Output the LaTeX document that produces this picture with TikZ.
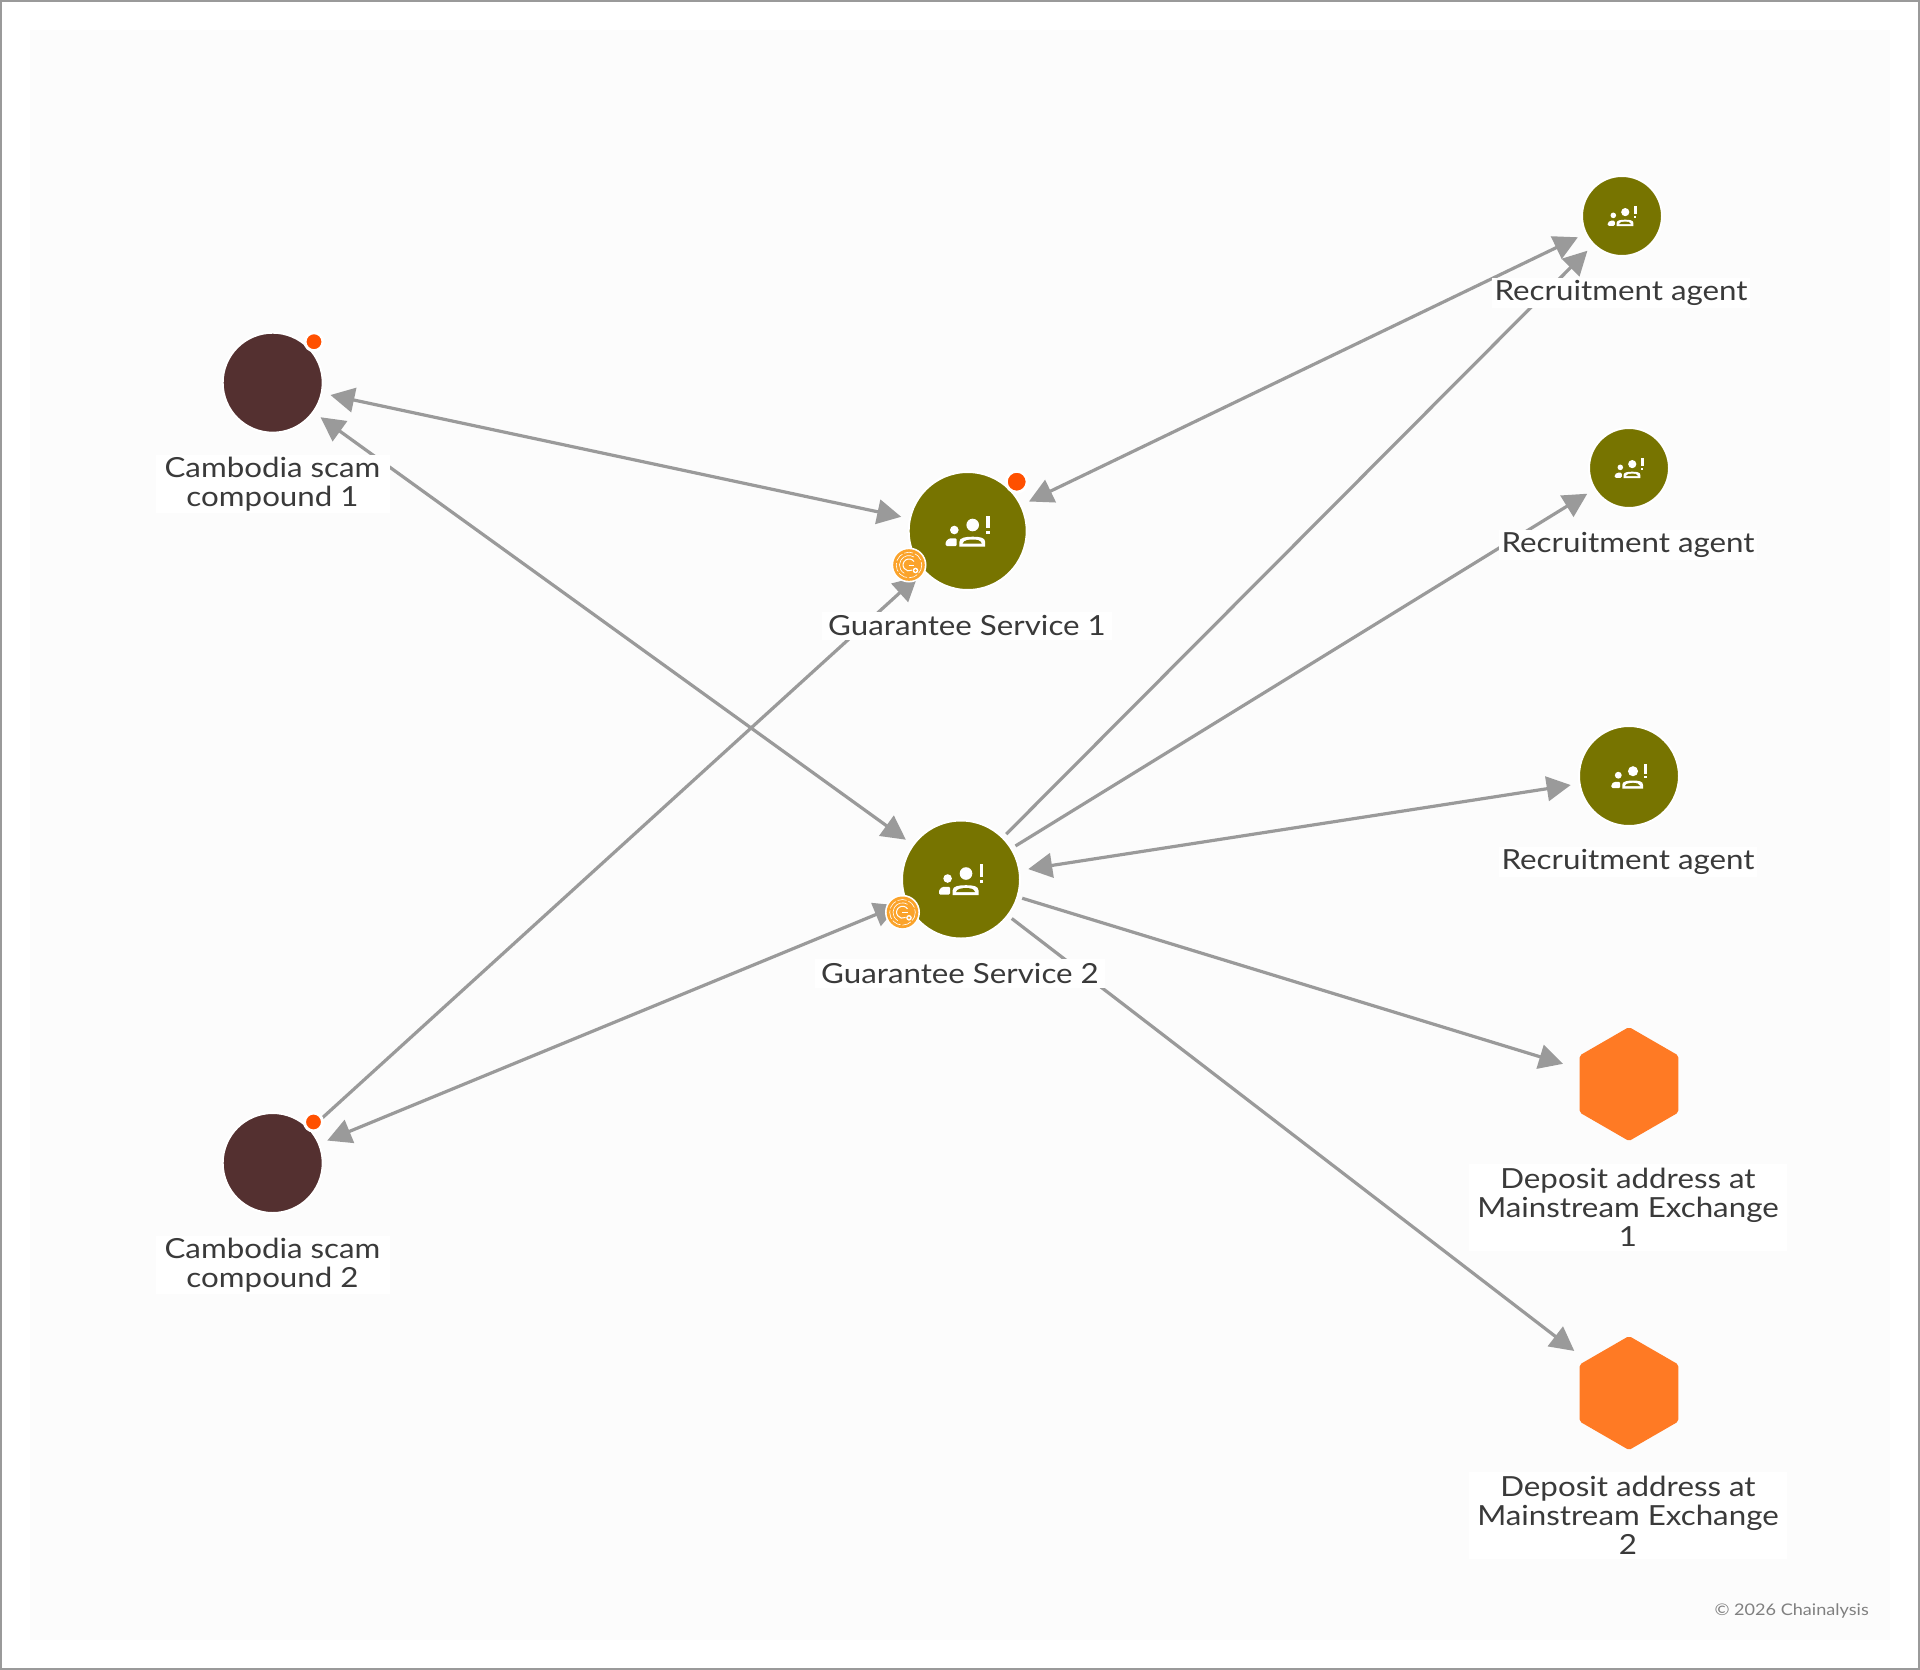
\documentclass[tikz,border=0pt]{standalone}
\usepackage{fontspec}
\usetikzlibrary{arrows.meta}
\setmainfont[FakeStretch=1.13]{Lato}
\definecolor{olivenode}{HTML}{777400}
\definecolor{brownnode}{HTML}{543030}
\definecolor{hexorange}{HTML}{FF7A24}
\definecolor{dotred}{HTML}{FF5000}
\definecolor{swirl}{HTML}{FBA32A}
\definecolor{edgegrey}{HTML}{9A9A9A}
\definecolor{panelgrey}{HTML}{FCFCFC}
\definecolor{labeltext}{HTML}{3A3A3A}
\tikzset{
  nodebase/.style={circle,inner sep=0pt,outer sep=9pt,draw=white,line width=2pt},
  bigperson/.style={nodebase,fill=olivenode,minimum size=118pt},
  midperson/.style={nodebase,fill=olivenode,minimum size=100pt},
  smallperson/.style={nodebase,fill=olivenode,minimum size=80pt},
  compound/.style={nodebase,fill=brownnode,minimum size=100pt},
  hexnode/.style={circle,inner sep=0pt,outer sep=10pt,minimum size=118pt,
    path picture={
      \fill[hexorange,rounded corners=2pt,shift={(path picture bounding box.center)}]
        (90:57) -- (30:57) -- (-30:57) -- (-90:57) -- (-150:57) -- (150:57) -- cycle;}},
  lbl/.style={fill=white,text=labeltext,inner sep=0pt,align=center,
    font=\fontsize{27.7}{29}\selectfont},
  edgeline/.style={draw=edgegrey,line width=3.2pt},
  oneway/.style={edgeline,shorten <=-4pt,-{Triangle[length=24pt,width=24.5pt]}},
  twoway/.style={edgeline,{Triangle[length=24pt,width=24.5pt]}-{Triangle[length=24pt,width=24.5pt]}},
  reddot/.style={circle,fill=dotred,draw=white,line width=3pt,inner sep=0pt},
  pics/alerticon/.style={code={
    \fill[white] (-13.4,-1) circle[radius=4.3];
    \fill[white,rounded corners=1.2pt] (-22,15) -- (-22,10.5) -- (-18.5,7.3) -- (-11,7.3) -- (-11,15) -- cycle;
    \fill[white] (5,-6) circle[radius=6.3];
    \fill[white] (-8.4,15.7) -- (-8.4,11) .. controls (-8.4,6.5) and (-2,5.7) .. (5,5.7)
       .. controls (12,5.7) and (17.5,6.5) .. (17.5,11) -- (17.5,15.7) -- cycle;
    \fill[olivenode] (-5,12.5) .. controls (-4,9) and (1,8.6) .. (5,8.6)
       .. controls (9,8.6) and (13,9) .. (14,12.5) -- cycle;
    \fill[white] (18.5,-15.5) rectangle (22.3,-3);
    \fill[white] (18.7,0) rectangle (22.1,3);
  }},
  pics/swirlbadge/.style={code={
    \fill[white] (0,0) circle[radius=17.5];
    \fill[swirl] (0,0) circle[radius=15.8];
    \draw[white,line width=.6pt,dash pattern=on 9pt off 2pt] (0,0) circle[radius=12.8];
    \draw[white,line width=.6pt] (5,-8) arc[start angle=-58,end angle=-240,radius=9.5];
    \draw[white,line width=1pt] (5,-3.5) arc[start angle=-35,end angle=-300,radius=6];
    \draw[white,line width=1pt] (-.5,0) -- (5,0);
    \fill[white] (6.5,5.5) circle[radius=2.8];
    \fill[swirl] (6.5,5.5) circle[radius=1.4];
  }},
}
\begin{document}
\begin{tikzpicture}[x=1pt,y=-1pt]
\useasboundingbox (0,0) rectangle (1920,1670);
\fill[white] (0,0) rectangle (1920,1670);
\fill[panelgrey] (30,30) rectangle (1890,1640);
\draw[edgegrey,line width=2pt] (1,1) rectangle (1919,1669);

% anchors of the graph (the discs are painted after the labels)
\node[compound,draw=none,fill=none] (c1) at (272.7,382.7) {};
\node[compound,draw=none,fill=none] (c2) at (272.7,1163) {};
\node[bigperson,draw=none,fill=none] (gs1) at (967.7,531) {};
\node[bigperson,draw=none,fill=none] (gs2) at (961,879.5) {};
\node[smallperson,draw=none,fill=none] (ra1) at (1622,216) {};
\node[smallperson,draw=none,fill=none] (ra2) at (1629,468) {};
\node[midperson,draw=none,fill=none] (ra3) at (1629,776) {};
\node[hexnode] (hex1) at (1629,1084) {};
\node[hexnode] (hex2) at (1629,1393) {};

% connectors
\draw[twoway] (c1) -- (gs1);
\draw[twoway] (c1) -- (gs2);
\draw[oneway] (c2) -- (gs1);
\draw[twoway] (c2) -- (gs2);
\draw[twoway] (gs1) -- (ra1);
\draw[oneway] (gs2) -- (ra1);
\draw[oneway] (gs2) -- (ra2);
\draw[twoway] (gs2) -- (ra3);
\draw[oneway] (gs2) -- (hex1);
\draw[oneway] (gs2) -- (hex2);

% labels
\node[lbl,minimum width=234pt,minimum height=58pt] (lc1) at (272.5,484) {Cambodia scam\\compound 1};
\node[lbl,minimum width=234pt,minimum height=58pt] (lc2) at (272.5,1265) {Cambodia scam\\compound 2};
\node[lbl,minimum width=290pt,minimum height=28pt] (lgs1) at (967,626) {Guarantee Service 1};
\node[lbl,minimum width=290pt,minimum height=29pt] (lgs2) at (960,973.5) {Guarantee Service 2};
\node[lbl,minimum width=258pt,minimum height=30pt] (lra1) at (1621,292.5) {Recruitment agent};
\node[lbl,minimum width=258pt,minimum height=30pt] (lra2) at (1628,544.5) {Recruitment agent};
\node[lbl,minimum width=258pt,minimum height=30pt] (lra3) at (1628,862) {Recruitment agent};
\node[lbl,minimum width=318pt,minimum height=87pt] (lh1) at (1628,1207.5) {Deposit address at\\Mainstream Exchange\\1};
\node[lbl,minimum width=318pt,minimum height=87pt] (lh2) at (1628,1515.5) {Deposit address at\\Mainstream Exchange\\2};

% visible discs
\node[compound] at (c1) {};
\node[compound] at (c2) {};
\node[bigperson] at (gs1) {};
\node[bigperson] at (gs2) {};
\node[smallperson] at (ra1) {};
\node[smallperson] at (ra2) {};
\node[midperson] at (ra3) {};

% icons
\pic at (gs1) {alerticon};
\pic at (gs2) {alerticon};
\pic[scale=.65] at (ra1) {alerticon};
\pic[scale=.65] at (ra2) {alerticon};
\pic[scale=.8] at (ra3) {alerticon};

% badges
\node[reddot,minimum size=21pt] (d1) at (1016.7,481.7) {};
\node[reddot,minimum size=18pt] (d2) at (314,341.7) {};
\node[reddot,minimum size=18pt] (d3) at (313.5,1122) {};
\pic at (909,565) {swirlbadge};
\pic at (902.5,912.3) {swirlbadge};

\node[text=black!50,anchor=east,inner sep=0pt,font=\fontsize{16}{20}\selectfont] (copy) at (1869,1611) {© 2026 Chainalysis};
\end{tikzpicture}
\end{document}
